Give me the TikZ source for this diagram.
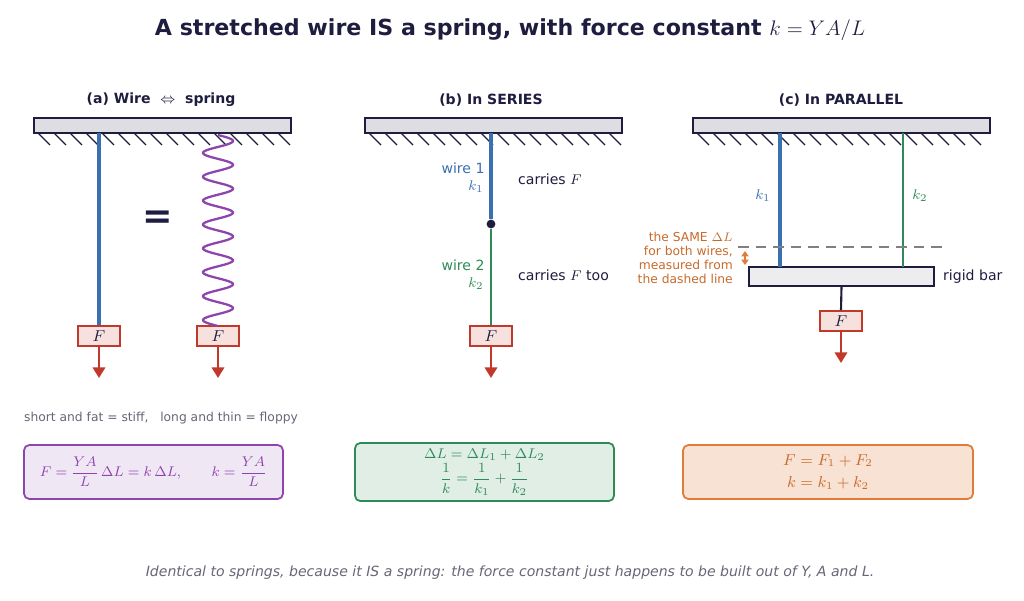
\documentclass[tikz,border=0pt]{standalone}
\usepackage{fontspec}
\setmainfont{DejaVu Sans}
\usepackage{amsmath}
\usetikzlibrary{arrows.meta,positioning}
\definecolor{navy}{HTML}{1F1D3F}
\definecolor{wblue}{HTML}{3A6FB0}
\definecolor{wgreen}{HTML}{2E8B57}
\definecolor{wpurple}{HTML}{8E44AD}
\definecolor{wred}{HTML}{C0392B}
\definecolor{worange}{HTML}{E07B39}
\definecolor{torange}{HTML}{C8692A}
\definecolor{tgray}{HTML}{666677}
\tikzstyle{ceiling} = [draw=navy, line width=1.2pt, fill=navy!15]
\tikzstyle{hatch} = [navy, line width=0.7pt]
\tikzstyle{weight} = [draw=wred, fill=wred!15, line width=1pt, minimum width=0.84cm, minimum height=0.4cm, inner sep=0pt, text=navy, font=\small]
\tikzstyle{pull} = [wred, line width=1.3pt, -{Triangle[length=6pt,width=7pt]}]
\tikzstyle{header} = [text=navy, font=\bfseries\footnotesize]
\tikzstyle{label} = [font=\footnotesize]
\tikzstyle{formula} = [rounded corners=3pt, line width=1pt, minimum width=5.18cm, minimum height=1.08cm, align=center, font=\small]
\newcommand{\hatching}[2]{\foreach \hx in {#1,...,#2} \draw[hatch] (\hx,133) -- ++(12,12);}

\begin{document}
\begin{tikzpicture}[x=0.02cm, y=-0.02cm]
    \useasboundingbox (0,0) rectangle (1024,600);

    \node (title) at (510,30) [text=navy, font=\bfseries\fontsize{12.6}{15}\selectfont] {A stretched wire IS a spring, with force constant $k=YA/L$};

    % (a) wire and spring
    \node (ha) at (161,100) [header] {(a) Wire \ $\Leftrightarrow$ \ spring};
    \draw[ceiling] (34,118) rectangle (291,133);
    \hatching{38,54}{278}
    \node (Fa1) at (99,336) [weight] {$F$};
    \node (Fa2) at (218,336) [weight] {$F$};
    \coordinate (topa1) at (99,133);
    \draw[wblue, line width=2.2pt] (topa1) -- (Fa1.north);
    \draw[wpurple, line width=1.3pt] plot[domain=0:1, samples=300] ({218+15*sin(360*8*\x)}, {135+191*\x});
    \node (eq) at (158,220) [text=navy, font=\bfseries\huge] {=};
    \coordinate (Fa1e) at (99,378);
    \coordinate (Fa2e) at (218,378);
    \draw[pull] (Fa1.south) -- (Fa1e);
    \draw[pull] (Fa2.south) -- (Fa2e);
    \node (note) at (161,418) [text=tgray, font=\scriptsize] {short and fat = stiff, \ \ long and thin = floppy};
    \node (boxa) at (153.5,472) [formula, draw=wpurple, fill=wpurple!13, text=wpurple, font=\footnotesize] {$F=\dfrac{YA}{L}\,\Delta L=k\,\Delta L,\qquad k=\dfrac{YA}{L}$};

    % (b) series
    \node (hb) at (491,100) [header] {(b) In SERIES};
    \draw[ceiling] (365,118) rectangle (622,133);
    \hatching{369,385}{610}
    \coordinate (topb) at (491,133);
    \node (joint) at (491,224) [circle, fill=navy, inner sep=0pt, minimum size=5pt] {};
    \node (Fb) at (491,336) [weight] {$F$};
    \draw[wblue, line width=2.2pt] (topb) -- (joint);
    \draw[wgreen, line width=1.5pt] (joint) -- (Fb.north);
    \coordinate (Fbe) at (491,378);
    \draw[pull] (Fb.south) -- (Fbe);
    \node (w1) at (463,168) [label, text=wblue] {wire 1};
    \node (k1b) at (476,187) [label, text=wblue] {$k_1$};
    \node (c1) at (512,179) [label, anchor=west, text=navy] {carries $F$};
    \node (w2) at (463,265) [label, text=wgreen] {wire 2};
    \node (k2b) at (476,284) [label, text=wgreen] {$k_2$};
    \node (c2) at (512,275) [label, anchor=west, text=navy] {carries $F$ too};
    \node (boxb) at (484.5,472) [formula, draw=wgreen, fill=wgreen!15, text=wgreen, font=\footnotesize] {$\Delta L=\Delta L_1+\Delta L_2$\\[1pt] $\dfrac{1}{k}=\dfrac{1}{k_1}+\dfrac{1}{k_2}$};

    % (c) parallel
    \node (hc) at (841,100) [header] {(c) In PARALLEL};
    \draw[ceiling] (693,118) rectangle (990,133);
    \hatching{697,713}{978}
    \node (bar) at (841.5,276.5) [draw=navy, fill=navy!8, line width=1.2pt, minimum width=3.7cm, minimum height=0.38cm, inner sep=0pt] {};
    \node (rb) at (937,277) [label, anchor=west, text=navy] {rigid bar};
    \coordinate (topc1) at (780,133);
    \coordinate (topc2) at (903,133);
    \coordinate (botc1) at (780,267);
    \coordinate (botc2) at (903,267);
    \draw[wblue, line width=2.2pt] (topc1) -- (botc1);
    \draw[wgreen, line width=1.5pt] (topc2) -- (botc2);
    \node (k1c) at (763,196) [label, text=wblue] {$k_1$};
    \node (k2c) at (920,196) [label, text=wgreen] {$k_2$};
    \coordinate (dl) at (738,247);
    \coordinate (dr) at (948,247);
    \draw[gray, line width=0.8pt, dash pattern=on 6pt off 4pt] (dl) -- (dr);
    \coordinate (da) at (745,251);
    \coordinate (db) at (745,265);
    \draw[worange, line width=1pt, {Triangle[length=3pt,width=4pt]}-{Triangle[length=3pt,width=4pt]}] (da) -- (db);
    \node (same) at (739,258) [anchor=east, align=right, text=torange, font=\scriptsize] {the SAME $\Delta L$\\for both wires,\\measured from\\the dashed line};
    \node (Fc) at (841,321) [weight] {$F$};
    \draw[navy, line width=1.2pt] (bar.south) -- (Fc.north);
    \coordinate (Fce) at (841,363);
    \draw[pull] (Fc.south) -- (Fce);
    \node (boxc) at (828,472) [formula, minimum width=5.8cm, draw=worange, fill=worange!22, text=torange] {$F=F_1+F_2$\\[2pt] $k=k_1+k_2$};

    \node (foot) at (510,573) [text=tgray, font=\footnotesize\itshape] {Identical to springs, because it IS a spring: the force constant just happens to be built out of Y, A and L.};
\end{tikzpicture}
\end{document}
